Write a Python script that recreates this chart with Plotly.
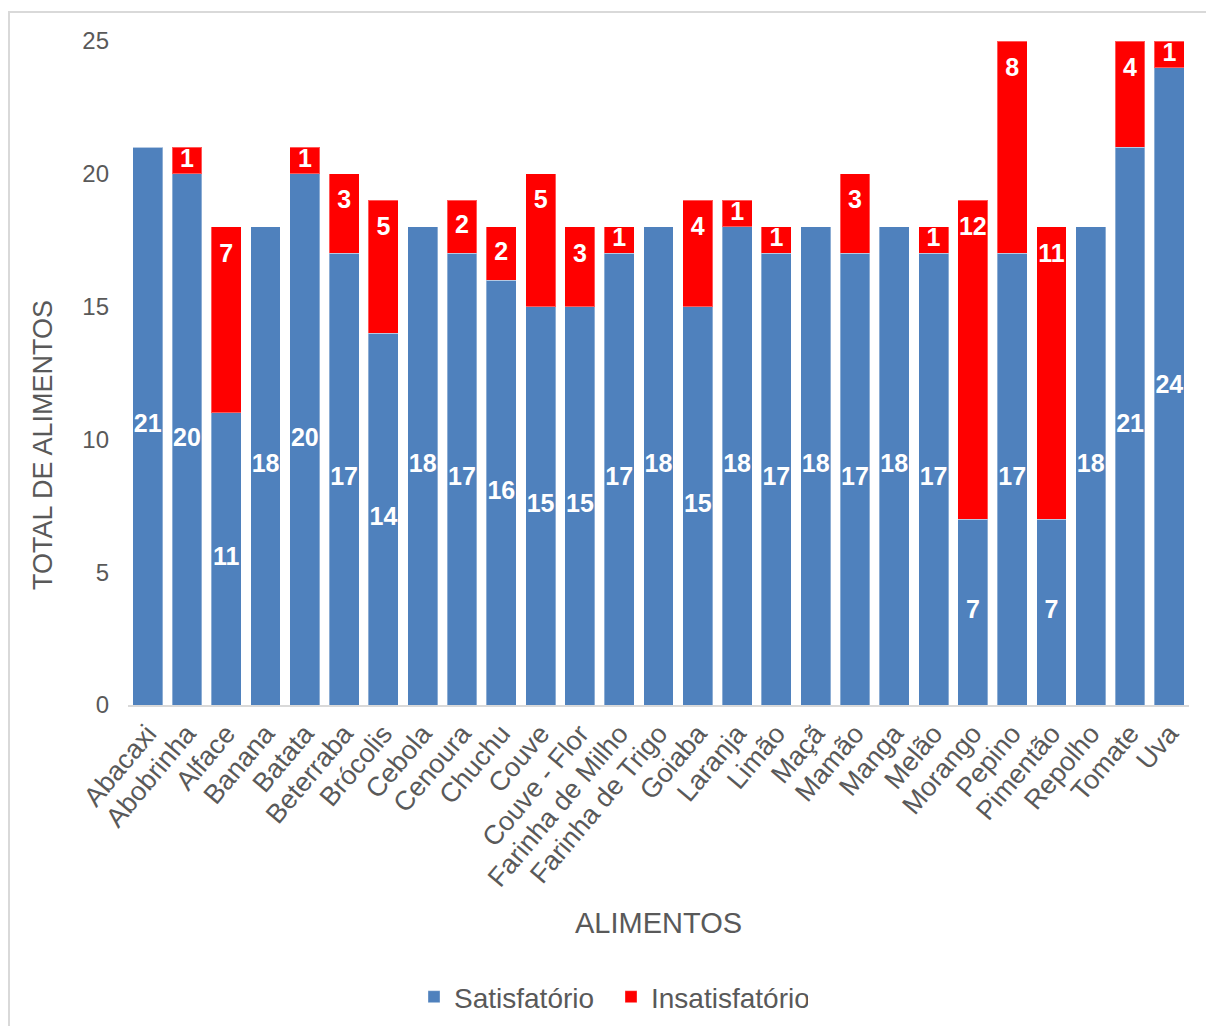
import plotly.graph_objects as go

categorias = ["Abacaxi", "Abobrinha", "Alface", "Banana", "Batata", "Beterraba", "Brócolis",
              "Cebola", "Cenoura", "Chuchu", "Couve", "Couve - Flor", "Farinha de Milho",
              "Farinha de Trigo", "Goiaba", "Laranja", "Limão", "Maçã", "Mamão", "Manga",
              "Melão", "Morango", "Pepino", "Pimentão", "Repolho", "Tomate", "Uva"]
satisfatorio = [21, 20, 11, 18, 20, 17, 14, 18, 17, 16, 15, 15, 17, 18, 15, 18, 17, 18, 17, 18,
                17, 7, 17, 7, 18, 21, 24]
insatisfatorio = [0, 1, 7, 0, 1, 3, 5, 0, 2, 2, 5, 3, 1, 0, 4, 1, 1, 0, 3, 0,
                  1, 12, 8, 11, 0, 4, 1]
y_ticks = [0, 5, 10, 15, 20, 25]

AZUL = "#4F81BD"
VERMELHO = "#FF0000"
CINZA = "#595959"
FONT = "Liberation Sans, Arial, sans-serif"

fig = go.Figure()
fig.add_trace(go.Bar(x=categorias, y=satisfatorio, name="Satisfatório",
                     marker=dict(color=AZUL, line=dict(color="rgba(255,255,255,0.35)", width=1))))
fig.add_trace(go.Bar(x=categorias, y=insatisfatorio, name="Insatisfatório",
                     marker=dict(color=VERMELHO, line=dict(color="rgba(255,255,255,0.35)", width=1))))

# data labels
sat_y = [v / 2 for v in satisfatorio]
sat_t = [str(v) if v else "" for v in satisfatorio]
ins_y = [s + i - min(1.07, i / 2) for s, i in zip(satisfatorio, insatisfatorio)]
ins_t = [str(v) if v else "" for v in insatisfatorio]
for yy, tt in ((sat_y, sat_t), (ins_y, ins_t)):
    fig.add_trace(go.Scatter(x=categorias, y=yy, text=tt, mode="text", showlegend=False,
                             hoverinfo="skip", cliponaxis=False,
                             textfont=dict(family=FONT, size=25, color="white", weight="bold")))

FW, FH = 1206, 1026
L, T, W, H = 128, 41, 1061, 664

def px(x):
    return (x - L) / W

def py(y):
    return (T + H - y) / H

fig.update_layout(
    width=FW, height=FH,
    margin=dict(l=L, r=FW - L - W, t=T, b=FH - T - H, autoexpand=False),
    barmode="stack", bargap=0.24,
    plot_bgcolor="white", paper_bgcolor="white",
    font=dict(family=FONT, color=CINZA),
    showlegend=True,
    legend=dict(orientation="h", xref="container", yref="container",
                x=611 / FW, xanchor="center", y=1 - 997 / FH, yanchor="middle",
                font=dict(size=28, color=CINZA), itemwidth=30, traceorder="normal",
                entrywidth=152, entrywidthmode="pixels"),
    xaxis=dict(tickangle=-50, tickfont=dict(size=27, color=CINZA), showgrid=False,
               showline=True, linecolor="#D9D9D9", linewidth=2, ticks="",
               range=[-0.5, len(categorias) - 0.5], automargin=False),
    yaxis=dict(range=[0, 25], tickvals=y_ticks, tickfont=dict(size=24, color=CINZA),
               showgrid=False, zeroline=False, showline=False, ticks="", ticklabelstandoff=18,
               automargin=False),
    shapes=[dict(type="rect", xref="paper", yref="paper",
                 x0=px(9), x1=px(1215), y0=py(1040), y1=py(12),
                 line=dict(color="#D9D9D9", width=2), fillcolor="rgba(0,0,0,0)", layer="below")],
    annotations=[
        dict(text="ALIMENTOS", xref="paper", yref="paper", x=px(658), y=py(923),
             xanchor="center", yanchor="middle", showarrow=False,
             font=dict(size=29, color=CINZA)),
        dict(text="TOTAL DE ALIMENTOS", xref="paper", yref="paper", x=px(43), y=py(445),
             xanchor="center", yanchor="middle", showarrow=False, textangle=-90,
             font=dict(size=27, color=CINZA)),
    ],
)

fig.write_html("out.html")
